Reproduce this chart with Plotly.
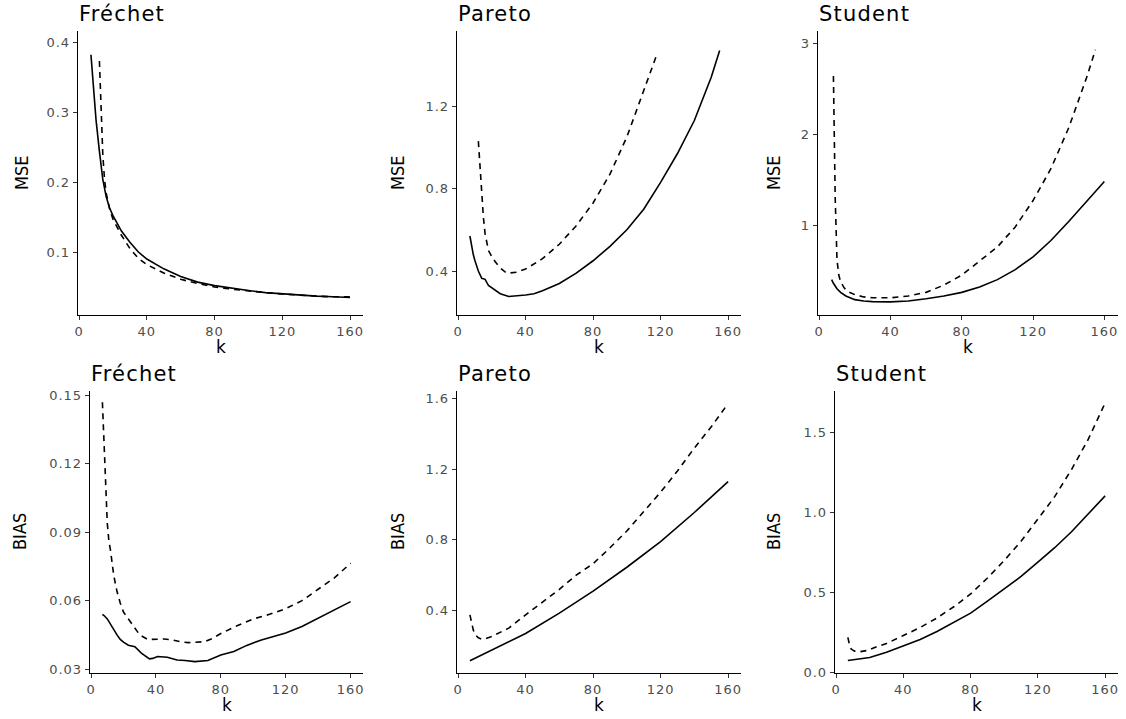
import plotly.graph_objects as go

W, H = 1126, 719

# ---------------- data ----------------
# Fréchet MSE
fm_k_s = [7, 8, 9, 10, 12, 14, 16, 18, 20, 25, 30, 35, 40, 50, 60, 70, 80, 90, 100, 110, 120, 130, 140, 150, 160]
fm_v_s = [0.383, 0.35, 0.315, 0.29, 0.245, 0.205, 0.18, 0.164, 0.153, 0.131, 0.115, 0.101, 0.091, 0.077, 0.066, 0.058, 0.053, 0.049, 0.046, 0.043, 0.041, 0.039, 0.038, 0.037, 0.036]
fm_k_d = [12, 13, 14, 15, 16, 18, 20, 25, 30, 35, 40, 50, 60, 70, 80, 90, 100, 110, 120, 130, 140, 150, 160]
fm_v_d = [0.374, 0.30, 0.24, 0.205, 0.185, 0.163, 0.148, 0.125, 0.106, 0.092, 0.083, 0.071, 0.062, 0.056, 0.051, 0.048, 0.045, 0.043, 0.041, 0.039, 0.038, 0.037, 0.037]

# Pareto MSE
pm_k_s = [7, 8, 9, 10, 12, 14, 16, 18, 20, 25, 30, 35, 40, 45, 50, 60, 70, 80, 90, 100, 110, 120, 130, 140, 150, 155]
pm_v_s = [0.57, 0.52, 0.48, 0.45, 0.40, 0.365, 0.36, 0.33, 0.318, 0.29, 0.277, 0.279, 0.284, 0.29, 0.305, 0.34, 0.39, 0.45, 0.52, 0.60, 0.70, 0.83, 0.97, 1.13, 1.34, 1.47]
pm_k_d = [12, 13, 14, 15, 16, 17, 18, 20, 22, 25, 28, 30, 35, 40, 45, 50, 60, 70, 80, 90, 100, 110, 118]
pm_v_d = [1.03, 0.90, 0.76, 0.66, 0.58, 0.53, 0.50, 0.47, 0.445, 0.415, 0.395, 0.39, 0.395, 0.41, 0.435, 0.46, 0.53, 0.62, 0.73, 0.87, 1.05, 1.27, 1.455]

# Student MSE
sm_k_s = [7, 8, 10, 12, 15, 20, 25, 30, 40, 50, 60, 70, 80, 90, 100, 110, 120, 130, 140, 150, 160]
sm_v_s = [0.40, 0.36, 0.30, 0.26, 0.22, 0.18, 0.165, 0.158, 0.155, 0.165, 0.19, 0.22, 0.26, 0.32, 0.40, 0.51, 0.65, 0.83, 1.04, 1.26, 1.48]
sm_k_d = [8, 9, 10, 11, 12, 14, 16, 20, 25, 30, 40, 50, 60, 70, 80, 90, 100, 110, 120, 130, 140, 150, 155]
sm_v_d = [2.64, 1.30, 0.62, 0.45, 0.38, 0.31, 0.27, 0.235, 0.21, 0.20, 0.20, 0.22, 0.26, 0.34, 0.45, 0.60, 0.76, 0.98, 1.27, 1.62, 2.07, 2.62, 2.93]

# Fréchet BIAS
fb_k_s = [7, 8, 10, 12, 14, 16, 18, 20, 23, 27, 31, 34, 36, 38, 41, 47, 53, 58, 64, 72, 76, 80, 88, 96, 105, 110, 120, 130, 140, 150, 160]
fb_v_s = [0.054, 0.0535, 0.052, 0.0495, 0.0475, 0.045, 0.043, 0.0418, 0.0405, 0.0398, 0.037, 0.0355, 0.0345, 0.0347, 0.0355, 0.0352, 0.034, 0.0338, 0.0333, 0.0338, 0.035, 0.0362, 0.0377, 0.0404, 0.0428, 0.0437, 0.0458, 0.0487, 0.0523, 0.056, 0.0596]
fb_k_d = [7, 8, 9, 10, 11, 12, 14, 16, 18, 20, 25, 30, 35, 40, 45, 50, 55, 60, 65, 70, 75, 80, 90, 100, 110, 120, 130, 140, 150, 160]
fb_v_d = [0.147, 0.130, 0.110, 0.094, 0.086, 0.082, 0.071, 0.064, 0.059, 0.055, 0.050, 0.045, 0.043, 0.043, 0.0432, 0.0428, 0.042, 0.0416, 0.0418, 0.042, 0.0435, 0.0456, 0.049, 0.052, 0.054, 0.0565, 0.060, 0.065, 0.070, 0.0764]

# Pareto BIAS
pb_k_s = [7, 20, 40, 60, 80, 100, 120, 140, 160]
pb_v_s = [0.115, 0.175, 0.27, 0.385, 0.51, 0.645, 0.79, 0.955, 1.13]
pb_k_d = [7, 8, 9, 10, 12, 14, 16, 20, 30, 40, 50, 60, 70, 80, 90, 100, 110, 120, 130, 140, 150, 160]
pb_v_d = [0.375, 0.33, 0.29, 0.265, 0.245, 0.238, 0.24, 0.253, 0.30, 0.375, 0.445, 0.52, 0.60, 0.665, 0.755, 0.85, 0.96, 1.07, 1.19, 1.32, 1.44, 1.572]

# Student BIAS
sb_k_s = [7, 10, 20, 30, 40, 50, 60, 70, 80, 90, 100, 110, 120, 130, 140, 150, 160]
sb_v_s = [0.073, 0.077, 0.092, 0.125, 0.165, 0.205, 0.255, 0.31, 0.37, 0.445, 0.52, 0.60, 0.69, 0.78, 0.88, 0.99, 1.105]
sb_k_d = [7, 8, 9, 11, 14, 18, 25, 30, 40, 50, 60, 70, 80, 90, 100, 110, 120, 130, 140, 150, 160]
sb_v_d = [0.218, 0.17, 0.145, 0.132, 0.128, 0.135, 0.163, 0.18, 0.23, 0.28, 0.34, 0.41, 0.49, 0.59, 0.70, 0.82, 0.96, 1.10, 1.27, 1.46, 1.687]

titles = ["Fréchet", "Pareto", "Student", "Fréchet", "Pareto", "Student"]
ylabels = ["MSE", "MSE", "MSE", "BIAS", "BIAS", "BIAS"]
xlabel = "k"
x_ticks = [0, 40, 80, 120, 160]
y_ticks = [
    [0.1, 0.2, 0.3, 0.4],
    [0.4, 0.8, 1.2],
    [1, 2, 3],
    [0.03, 0.06, 0.09, 0.12, 0.15],
    [0.4, 0.8, 1.2, 1.6],
    [0.0, 0.5, 1.0, 1.5],
]
y_ticktext = [
    ["0.1", "0.2", "0.3", "0.4"],
    ["0.4", "0.8", "1.2"],
    ["1", "2", "3"],
    ["0.03", "0.06", "0.09", "0.12", "0.15"],
    ["0.4", "0.8", "1.2", "1.6"],
    ["0.0", "0.5", "1.0", "1.5"],
]
y_ranges = [
    [0.011, 0.417],
    [0.187, 1.564],
    [0.011, 3.135],
    [0.0283, 0.1519],
    [0.046, 1.643],
    [-0.005, 1.762],
]
series = [
    (fm_k_s, fm_v_s, fm_k_d, fm_v_d),
    (pm_k_s, pm_v_s, pm_k_d, pm_v_d),
    (sm_k_s, sm_v_s, sm_k_d, sm_v_d),
    (fb_k_s, fb_v_s, fb_k_d, fb_v_d),
    (pb_k_s, pb_v_s, pb_k_d, pb_v_d),
    (sb_k_s, sb_v_s, sb_k_d, sb_v_d),
]

# ---------------- layout (pixel boxes) ----------------
boxes = [  # left, right, top, bottom in px
    (78, 363, 31, 315),
    (457, 741, 31, 315),
    (818, 1118, 31, 315),
    (90, 363, 391, 673),
    (457, 741, 391, 673),
    (835, 1118, 391, 673),
]
ylab_x = [21, 397, 773, 19, 397, 773]

TXT = "DejaVu Sans, Liberation Sans, sans-serif"
ROT = "Liberation Sans Narrow, DejaVu Sans Condensed, Liberation Sans, sans-serif"


def spaced(s, px):
    return f'<span style="letter-spacing:{px}px">{s}</span>'


fig = go.Figure()
layout = dict(
    template="none",
    width=W, height=H,
    margin=dict(l=0, r=0, t=0, b=0, pad=0),
    paper_bgcolor="white", plot_bgcolor="white",
    showlegend=False,
    annotations=[],
)

for i, (ks, vs, kd, vd) in enumerate(series):
    n = i + 1
    xa = "x" if n == 1 else f"x{n}"
    ya = "y" if n == 1 else f"y{n}"
    fig.add_trace(go.Scatter(x=ks, y=vs, mode="lines", xaxis=xa, yaxis=ya,
                             line=dict(color="black", width=1.6), hoverinfo="skip"))
    fig.add_trace(go.Scatter(x=kd, y=vd, mode="lines", xaxis=xa, yaxis=ya,
                             line=dict(color="black", width=1.6, dash="6px,5px"), hoverinfo="skip"))
    l, r, t, b = boxes[i]
    xd = [l / W, r / W]
    yd = [1 - b / H, 1 - t / H]
    common = dict(showline=True, linecolor="black", linewidth=1.3, showgrid=False,
                  zeroline=False, ticks="outside", ticklen=4, tickwidth=1,
                  automargin=False,
                  tickcolor="#333333", tickfont=dict(family=TXT, size=13, color="#4D4D4D"))
    layout["xaxis" if n == 1 else f"xaxis{n}"] = dict(
        common, domain=xd, anchor=ya, range=[-0.65, 167.65],
        tickmode="array", tickvals=x_ticks, ticktext=[spaced(str(v), 1) for v in x_ticks])
    layout["yaxis" if n == 1 else f"yaxis{n}"] = dict(
        common, domain=yd, anchor=xa, range=y_ranges[i],
        tickmode="array", tickvals=y_ticks[i], ticktext=[spaced(s, 1) for s in y_ticktext[i]])
    # panel title
    layout["annotations"].append(dict(
        text=spaced(titles[i], 1.2), xref="paper", yref="paper", x=(l - 1) / W, y=1 - (t - 17) / H,
        xanchor="left", yanchor="middle", showarrow=False,
        font=dict(family=TXT, size=21, color="black")))
    # y label
    layout["annotations"].append(dict(
        text=ylabels[i], xref="paper", yref="paper", x=ylab_x[i] / W, y=1 - ((t + b) / 2) / H,
        xanchor="center", yanchor="middle", textangle=-90, showarrow=False,
        font=dict(family=ROT, size=18, color="black")))
    # x label
    layout["annotations"].append(dict(
        text=xlabel, xref="paper", yref="paper", x=((l + r) / 2) / W, y=1 - (b + 32) / H,
        xanchor="center", yanchor="middle", showarrow=False,
        font=dict(family=TXT, size=17, color="black")))

fig.update_layout(**layout)
fig.write_html(
    "out.html",
    config={"displayModeBar": False, "staticPlot": True},
    post_script="document.body.style.margin='0';document.body.style.padding='0';"
                "document.body.style.overflow='hidden';",
)
